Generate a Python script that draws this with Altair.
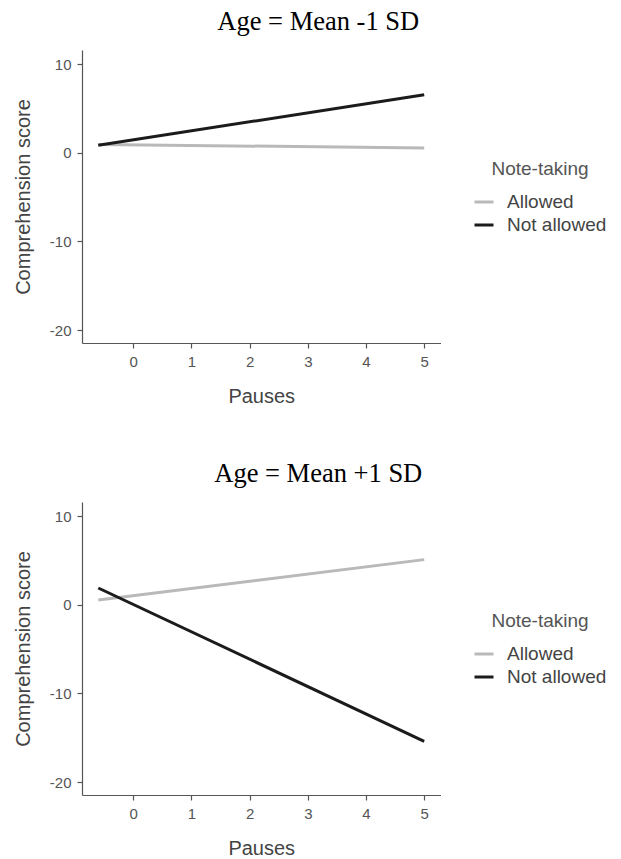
import altair as alt
import pandas as pd

# Data
pauses = [-0.6, 5.0]
groups = ["Allowed", "Not allowed"]
top_allowed = [0.95, 0.55]
top_not_allowed = [0.85, 6.55]
bottom_allowed = [0.55, 5.1]
bottom_not_allowed = [1.9, -15.4]
x_ticks = [0, 1, 2, 3, 4, 5]
y_ticks = [-20, -10, 0, 10]
titles = ["Age = Mean -1 SD", "Age = Mean +1 SD"]

colors = ["#b9b9b9", "#1b1b1b"]


def panel(title, allowed, not_allowed):
    df = pd.DataFrame({
        "Pauses": pauses + pauses,
        "score": allowed + not_allowed,
        "Note-taking": [groups[0]] * len(pauses) + [groups[1]] * len(pauses),
    })
    return alt.Chart(df).mark_line(strokeWidth=3, strokeCap="butt").encode(
        x=alt.X("Pauses:Q",
                scale=alt.Scale(domain=[-0.88, 5.28], nice=False, zero=False),
                axis=alt.Axis(values=x_ticks, title="Pauses",
                              labelExpr="datum.value + ''", titlePadding=17)),
        y=alt.Y("score:Q",
                scale=alt.Scale(domain=[-21.45, 11.6], nice=False, zero=False),
                axis=alt.Axis(values=y_ticks, title="Comprehension score",
                              labelExpr="datum.value + ''", titlePadding=16)),
        color=alt.Color("Note-taking:N",
                        scale=alt.Scale(domain=groups, range=colors),
                        legend=alt.Legend(
                            orient="none", legendX=391, legendY=110,
                            symbolType="stroke", symbolSize=361,
                            symbolStrokeWidth=3, labelOffset=12,
                            rowPadding=2, titlePadding=12,
                            titleAnchor="middle", titleAlign="center",
                        )),
    ).properties(
        width=358.5, height=293,
        title=alt.TitleParams(title, font="Liberation Serif", fontSize=26.5,
                              fontWeight="normal", color="black",
                              anchor="middle", frame="group", offset=14.5, dx=57),
    )


chart = alt.vconcat(
    panel(titles[0], top_allowed, top_not_allowed),
    panel(titles[1], bottom_allowed, bottom_not_allowed),
    spacing=55,
).resolve_legend(color="independent").resolve_scale(color="independent").properties(
    padding={"left": 5, "top": 1, "right": 0, "bottom": 0}
).configure_view(stroke=None).configure_axis(
    grid=False,
    domainColor="#555555", domainWidth=1.2,
    tickColor="#555555", tickWidth=1.2, tickSize=5,
    labelColor="#555555", labelFont="Liberation Sans", labelFontSize=15,
    labelPadding=6,
    titleColor="#444444", titleFont="Liberation Sans", titleFontSize=20,
    titleFontWeight="normal", titlePadding=12,
).configure_legend(
    labelFont="Liberation Sans", labelFontSize=19, labelColor="#444444",
    titleFont="Liberation Sans", titleFontSize=19, titleColor="#555555",
    titleFontWeight="normal",
)

chart.save("out.html", embed_options={"renderer": "svg", "actions": False})
